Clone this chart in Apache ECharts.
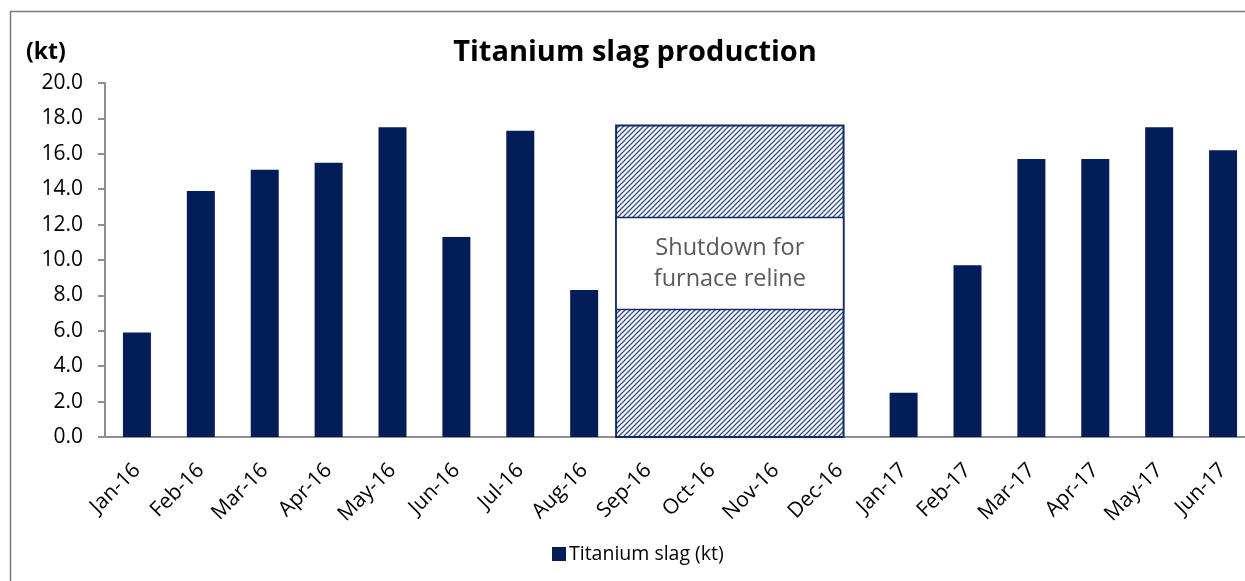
<!DOCTYPE html>
<html>
<head>
<meta charset="utf-8">
<script src="https://cdn.jsdelivr.net/npm/echarts@6/dist/echarts.min.js"></script>
<style>
html,body{margin:0;padding:0;background:#fff;}
#chart{width:1245px;height:581px;}
</style>
</head>
<body>
<div id="chart"></div>
<script>
const categories = ['Jan-16','Feb-16','Mar-16','Apr-16','May-16','Jun-16','Jul-16','Aug-16','Sep-16','Oct-16','Nov-16','Dec-16','Jan-17','Feb-17','Mar-17','Apr-17','May-17','Jun-17'];
const slagValues = [5.9, 13.9, 15.1, 15.5, 17.5, 11.3, 17.3, 8.3, null, null, null, null, 2.5, 9.7, 15.7, 15.7, 17.5, 16.2];
const yTicks = [0, 2, 4, 6, 8, 10, 12, 14, 16, 18, 20];
const shutdownStart = 'Sep-16';
const shutdownEnd = 'Dec-16';
const shutdownTop = 17.6;
const shutdownBandLow = 7.2;
const shutdownBandHigh = 12.4;
const shutdownText = 'Shutdown for\nfurnace reline';

const NAVY = '#021D58';
const FONT = '"Open Sans", sans-serif';

// hatch pattern
const T = 5;
const pc = document.createElement('canvas');
pc.width = T; pc.height = T;
const px = pc.getContext('2d');
px.fillStyle = '#ffffff';
px.fillRect(0, 0, T, T);
px.strokeStyle = '#344d8a';
px.lineWidth = 1.3;
px.beginPath();
px.moveTo(-1, T + 1); px.lineTo(T + 1, -1);
px.moveTo(-1, 1); px.lineTo(1, -1);
px.moveTo(T - 1, T + 1); px.lineTo(T + 1, T - 1);
px.stroke();

const chart = echarts.init(document.getElementById('chart'));
const iStart = categories.indexOf(shutdownStart);
const iEnd = categories.indexOf(shutdownEnd);

chart.setOption({
  animation: false,
  backgroundColor: '#ffffff',
  title: {
    text: 'Titanium slag production',
    left: 630, top: 33, textAlign: 'center',
    textStyle: {fontFamily: FONT, fontWeight: 'bold', fontSize: 29, color: '#000'}
  },
  graphic: [
    {type: 'rect', left: 8, top: 9, shape: {width: 1400, height: 700}, style: {fill: 'none', stroke: '#7a7a7a', lineWidth: 1.5}, silent: true, z: -1},
    {type: 'text', left: 26, top: 41, style: {text: '(kt)', fontFamily: FONT, fontWeight: 'bold', fontSize: 23, fill: '#000'}}
  ],
  legend: {
    data: ['Titanium slag (kt)'],
    left: 547, top: 539,
    itemWidth: 14, itemHeight: 14, itemGap: 4,
    icon: 'rect',
    textStyle: {fontFamily: FONT, fontSize: 19.5, color: '#000', padding: [0,0,0,-2]}
  },
  grid: {left: 105, top: 83, width: 1150, height: 354, containLabel: false, outerBoundsMode: 'none'},
  xAxis: {
    type: 'category',
    data: categories,
    axisLine: {lineStyle: {color: '#8f8f8f', width: 2}},
    axisTick: {show: false},
    axisLabel: {rotate: 45, margin: 30, fontFamily: FONT, fontSize: 21, color: '#000', interval: 0}
  },
  yAxis: {
    type: 'value',
    min: yTicks[0], max: yTicks[yTicks.length - 1], interval: yTicks[1] - yTicks[0],
    axisLine: {show: true, lineStyle: {color: '#8f8f8f', width: 2}},
    axisTick: {show: true, length: 7, lineStyle: {color: '#8f8f8f', width: 2}},
    splitLine: {show: false},
    axisLabel: {margin: 22, fontFamily: FONT, fontSize: 21, color: '#000', formatter: v => v.toFixed(1)}
  },
  series: [
    {
      name: 'Titanium slag (kt)',
      type: 'bar',
      data: slagValues,
      barWidth: 28,
      itemStyle: {color: NAVY}
    },
    {
      type: 'custom',
      silent: true,
      data: [[iStart, iEnd, shutdownTop, shutdownBandLow, shutdownBandHigh]],
      encode: {x: [0, 1], y: [2, 3, 4]},
      renderItem: function (params, api) {
        const bw = api.size([1, 0])[0];
        const p0 = api.coord([api.value(0), api.value(2)]);
        const p1 = api.coord([api.value(1), 0]);
        const x0 = p0[0] - bw / 2;
        const x1 = p1[0] + bw * 0.06;
        const yTop = p0[1];
        const yBot = p1[1];
        const yLo = api.coord([api.value(0), api.value(3)])[1];
        const yHi = api.coord([api.value(0), api.value(4)])[1];
        return {
          type: 'group',
          children: [
            {type: 'rect', shape: {x: x0, y: yTop, width: x1 - x0, height: yBot - yTop},
             style: {fill: {image: pc, repeat: 'repeat'}, stroke: '#0f2a66', lineWidth: 2}},
            {type: 'rect', shape: {x: x0, y: yHi, width: x1 - x0, height: yLo - yHi},
             style: {fill: '#ffffff', stroke: '#0f2a66', lineWidth: 1.5}},
            {type: 'text', x: (x0 + x1) / 2, y: (yHi + yLo) / 2,
             style: {text: shutdownText, align: 'center', verticalAlign: 'middle', fontFamily: FONT, fontSize: 23.5, lineHeight: 31, fill: '#595959'}}
          ]
        };
      },
      z: 3
    }
  ]
});
</script>
</body>
</html>
